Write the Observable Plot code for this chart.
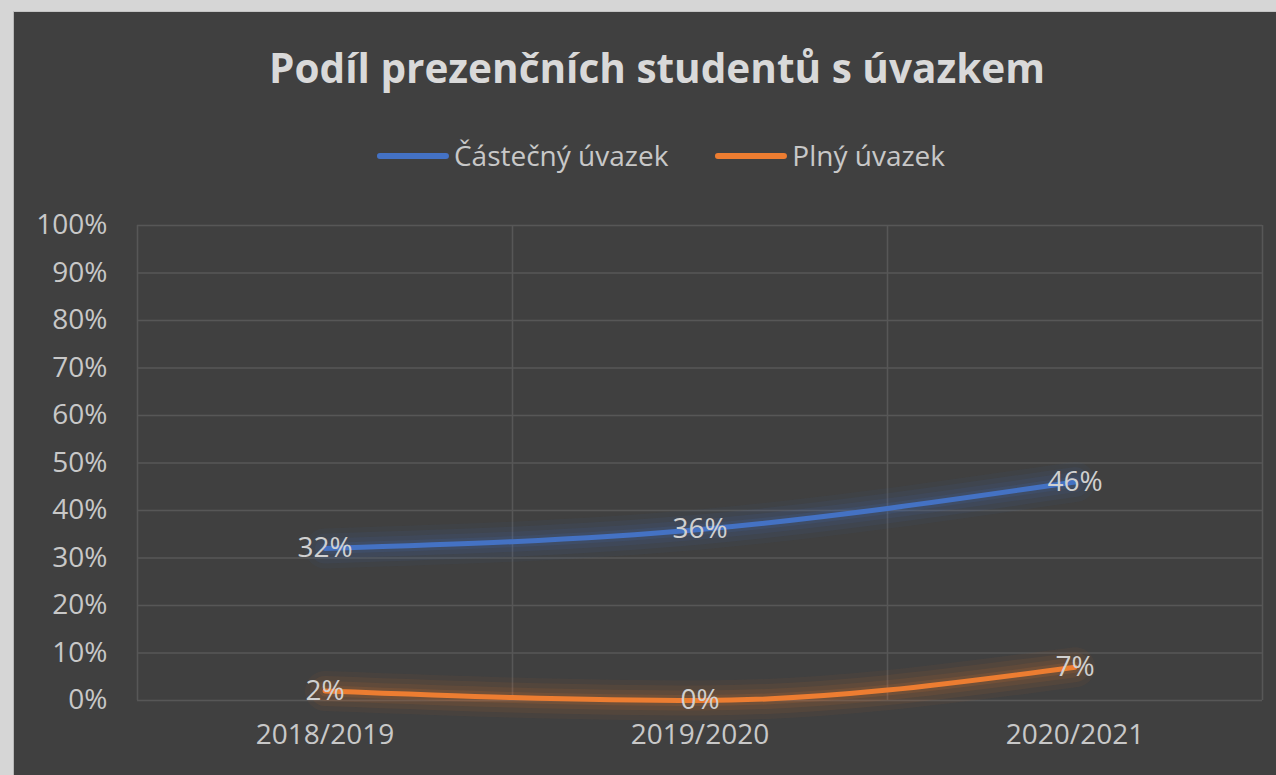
<!DOCTYPE html>
<html>
<head>
<meta charset="utf-8">
<script src="https://cdn.jsdelivr.net/npm/d3@7"></script>
<script src="https://cdn.jsdelivr.net/npm/@observablehq/plot@0.6"></script>
<style>
  html, body { margin: 0; padding: 0; width: 1276px; height: 775px; overflow: hidden; background: #d6d6d6; font-family: "Open Sans", sans-serif; }
  #panel { position: absolute; left: 13px; top: 11px; width: 1263px; height: 764px; background: #404040; border-left: 1px solid #b8b8b8; border-top: 1px solid #c4c4c4; box-sizing: border-box; }
  #title { position: absolute; left: 657px; top: 48px; transform: translateX(-50%); white-space: nowrap; font-size: 40.5px; font-weight: 700; line-height: 1; color: #d9d9d9; }
  #legend { position: absolute; left: 661px; top: 141px; transform: translateX(-50%); display: flex; align-items: center; white-space: nowrap; font-size: 28px; line-height: 28px; color: #c8c8c8; }
  .item { display: flex; align-items: center; }
  .item + .item { margin-left: 47px; }
  .sw { width: 72px; height: 6px; border-radius: 3px; margin-right: 5px; margin-top: 2px; }
  #chart { position: absolute; left: 13px; top: 190px; }
</style>
</head>
<body>
<div id="panel"></div>
<div id="title"></div>
<div id="legend"></div>
<div id="chart"></div>
<script>
const titleText = "Podíl prezenčních studentů s úvazkem";
const categories = ["2018/2019", "2019/2020", "2020/2021"];
const seriesNames = ["Částečný úvazek", "Plný úvazek"];
const seriesColors = ["#4472C4", "#ED7D31"];
const partTime = [0.32, 0.36, 0.46];
const fullTime = [0.02, 0.00, 0.07];
const yTicks = [0, 0.1, 0.2, 0.3, 0.4, 0.5, 0.6, 0.7, 0.8, 0.9, 1.0];

document.getElementById("title").textContent = titleText;
const legend = document.getElementById("legend");
seriesNames.forEach((name, k) => {
  const item = document.createElement("div");
  item.className = "item";
  const sw = document.createElement("div");
  sw.className = "sw";
  sw.style.background = seriesColors[k];
  const label = document.createElement("span");
  label.textContent = name;
  item.appendChild(sw);
  item.appendChild(label);
  legend.appendChild(item);
});

const seriesValues = [partTime, fullTime];
const data = categories.flatMap((cat, i) =>
  seriesNames.map((s, k) => ({cat, idx: i + 0.5, series: s, value: seriesValues[k][i]}))
);
const pct = d => Math.round(d * 100) + "%";
const lineOpts = {x: "idx", y: "value", z: "series", stroke: "series", curve: "monotone-x"};

const chart = Plot.plot({
  width: 1263,
  height: 585,
  marginTop: 35,
  marginBottom: 75,
  marginLeft: 124,
  marginRight: 14,
  style: {background: "transparent", fontFamily: "Open Sans, sans-serif", color: "#c8c8c8", overflow: "visible"},
  x: {type: "linear", domain: [0, categories.length], axis: null},
  y: {domain: [0, 1], axis: null},
  color: {domain: seriesNames, range: seriesColors},
  marks: [
    Plot.ruleY(yTicks, {stroke: "#575757", strokeWidth: 1.5}),
    Plot.ruleX(d3.range(categories.length + 1), {stroke: "#575757", strokeWidth: 1.5}),
    Plot.axisY(yTicks, {anchor: "left", label: null, tickSize: 0, tickPadding: 30, tickFormat: pct, fontSize: 28, fill: "#c8c8c8"}),
    Plot.axisX(categories.map((c, i) => i + 0.5), {anchor: "bottom", label: null, tickSize: 0, tickPadding: 24, tickFormat: d => categories[Math.floor(d)], fontSize: 28, fill: "#c8c8c8"}),
    Plot.line(data, {...lineOpts, strokeWidth: 40, strokeOpacity: 0.05}),
    Plot.line(data, {...lineOpts, strokeWidth: 30, strokeOpacity: 0.07}),
    Plot.line(data, {...lineOpts, strokeWidth: 20, strokeOpacity: 0.09}),
    Plot.line(data, {...lineOpts, strokeWidth: 11, strokeOpacity: 0.12}),
    Plot.line(data, {...lineOpts, strokeWidth: 5, strokeLinecap: "round"}),
    Plot.text(data, {x: "idx", y: "value", text: d => pct(d.value), fontSize: 28, fill: "#d0d0d0"})
  ]
});
document.getElementById("chart").appendChild(chart);
</script>
</body>
</html>
